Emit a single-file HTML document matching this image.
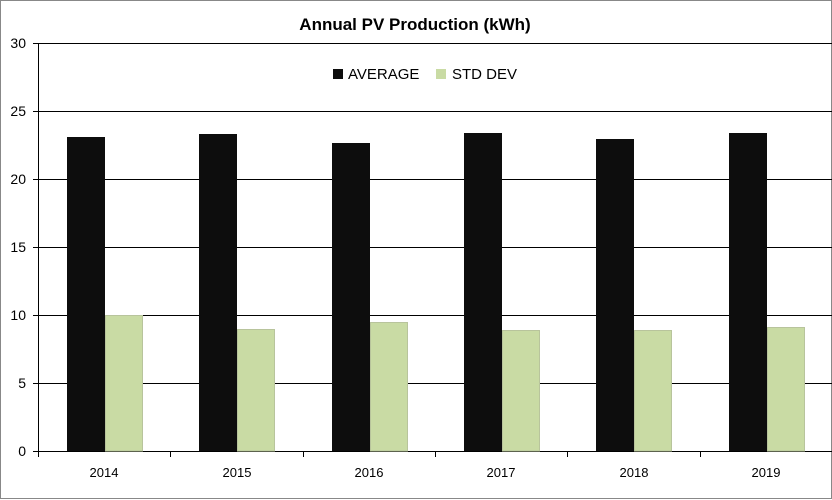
<!DOCTYPE html>
<html><head><style>body{margin:0;background:#fff}svg{display:block}</style></head><body>
<svg width="832" height="500" xmlns="http://www.w3.org/2000/svg" font-family="Liberation Sans, sans-serif">
<rect x="0.5" y="0.5" width="831" height="498" fill="#fff" stroke="#888"/>
<text x="415" y="30" text-anchor="middle" font-size="17" font-weight="bold">Annual PV Production  (kWh)</text>
<g stroke="#000" stroke-width="1">
<line x1="33" y1="43.5" x2="832" y2="43.5"/>
<line x1="33" y1="111.5" x2="832" y2="111.5"/>
<line x1="33" y1="179.5" x2="832" y2="179.5"/>
<line x1="33" y1="247.5" x2="832" y2="247.5"/>
<line x1="33" y1="315.5" x2="832" y2="315.5"/>
<line x1="33" y1="383.5" x2="832" y2="383.5"/>
<line x1="33" y1="451.5" x2="832" y2="451.5"/>
<line x1="38.5" y1="43" x2="38.5" y2="457"/>
<line x1="170.5" y1="451" x2="170.5" y2="457"/>
<line x1="303.5" y1="451" x2="303.5" y2="457"/>
<line x1="435.5" y1="451" x2="435.5" y2="457"/>
<line x1="567.5" y1="451" x2="567.5" y2="457"/>
<line x1="700.5" y1="451" x2="700.5" y2="457"/>
</g>
<g font-size="14" text-anchor="end">
<text x="26" y="48">30</text><text x="26" y="116">25</text><text x="26" y="184">20</text>
<text x="26" y="252">15</text><text x="26" y="320">10</text><text x="26" y="388">5</text><text x="26" y="456">0</text>
</g>
<g fill="#0d0d0d">
<rect x="67" y="137" width="38" height="314"/>
<rect x="199" y="134" width="38" height="317"/>
<rect x="332" y="143" width="38" height="308"/>
<rect x="464" y="133" width="38" height="318"/>
<rect x="596" y="139" width="38" height="312"/>
<rect x="729" y="133" width="38" height="318"/>
</g>
<g fill="#c9dba4" stroke="#b8c49c">
<rect x="105.5" y="315.5" width="37" height="135.5"/>
<rect x="237.5" y="329.5" width="37" height="121.5"/>
<rect x="370.5" y="322.5" width="37" height="128.5"/>
<rect x="502.5" y="330.5" width="37" height="120.5"/>
<rect x="634.5" y="330.5" width="37" height="120.5"/>
<rect x="767.5" y="327.5" width="37" height="123.5"/>
</g>
<g font-size="13" text-anchor="middle">
<text x="104" y="477">2014</text><text x="237" y="477">2015</text><text x="369" y="477">2016</text>
<text x="501" y="477">2017</text><text x="634" y="477">2018</text><text x="766" y="477">2019</text>
</g>
<rect x="333" y="69" width="10" height="10" fill="#0d0d0d"/>
<text x="348" y="79" font-size="15">AVERAGE</text>
<rect x="436" y="69" width="10" height="10" fill="#c9dba4"/>
<text x="452" y="79" font-size="15">STD DEV</text>
</svg>
</body></html>
